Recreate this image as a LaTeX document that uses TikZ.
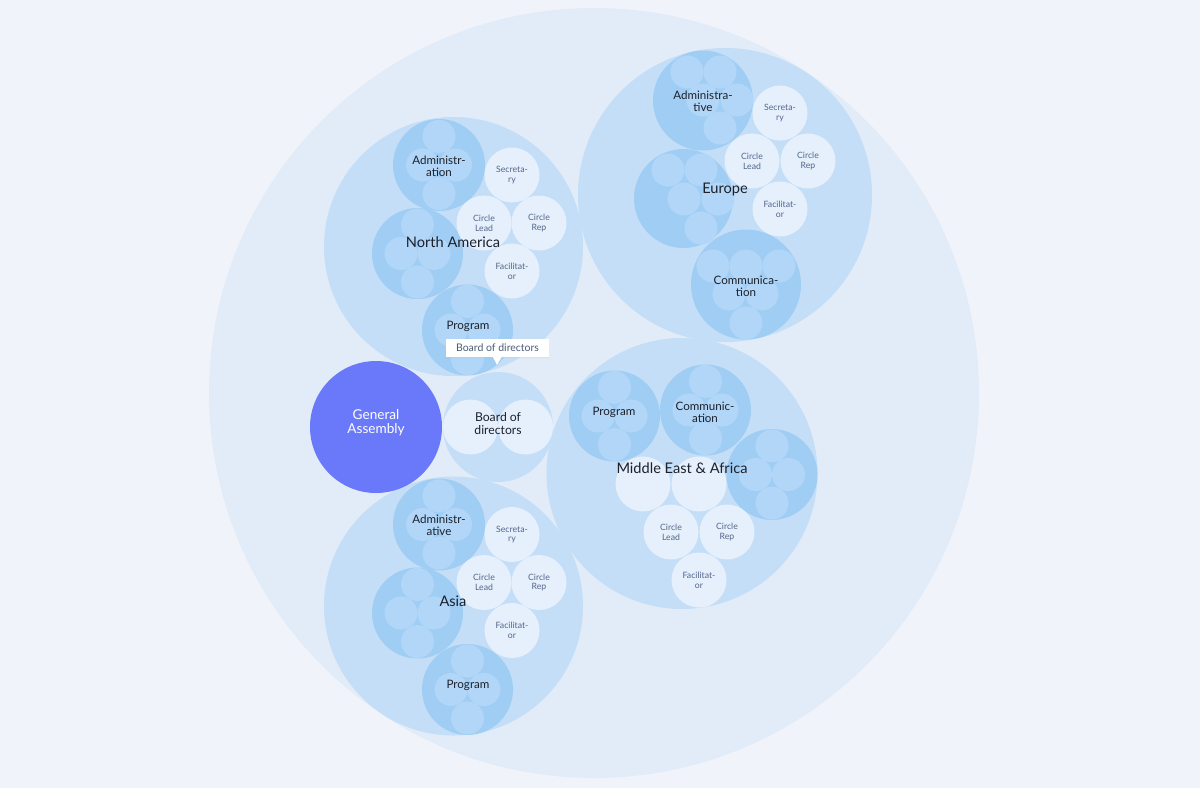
\documentclass[tikz,border=0pt]{standalone}
\usepackage{fontspec}
\setmainfont{Lato}
\usetikzlibrary{calc}
\usetikzlibrary{shapes.callouts}
\usetikzlibrary{shadows}
\definecolor{paper}{HTML}{F1F3FA}
\definecolor{outerblue}{HTML}{E1ECF8}
\definecolor{regionblue}{HTML}{C4DEF7}
\definecolor{teamblue}{HTML}{A0CDF4}
\definecolor{subblue}{HTML}{B1D6F7}
\definecolor{roleblue}{HTML}{E5F0FC}
\definecolor{assembly}{HTML}{6979F9}
\definecolor{ink}{HTML}{1C212C}
\definecolor{roleink}{HTML}{55658A}
\definecolor{tipink}{HTML}{4D5A78}

\begin{document}
\begin{tikzpicture}[x=1pt, y=-1pt,
  region/.style={circle, inner sep=0pt, fill=regionblue, minimum size=#1},
  team/.style={circle, inner sep=0pt, fill=teamblue, minimum size=#1},
  team/.default=91pt,
  sub/.style={circle, inner sep=0pt, fill=subblue, minimum size=33pt},
  role/.style={circle, inner sep=0pt, fill=roleblue, minimum size=55pt,
    text=roleink, align=center, font=\fontsize{8.7}{9.8}\selectfont},
  rlabel/.style={text=ink, font=\fontsize{14.6}{16}\selectfont},
  tlabel/.style={text=ink, align=center, font=\fontsize{11.6}{12.2}\selectfont}]

  \fill[paper] (0,0) rectangle (1200,788);
  \node[circle, inner sep=0pt, fill=outerblue, minimum size=770pt] (all) at (594,393) {};

  % regions
  \node[region=259pt] (na) at (453.5,246.5) {};
  \node[region=259pt] (as) at (453.5,606) {};
  \node[region=294pt] (eu) at (725,195) {};
  \node[region=271pt] (me) at (682,473.5) {};
  \node[region=110pt] (bod) at (498,427) {};

  % teams of North America and Asia
  \foreach \reg/\sy in {na/0, as/359.5} {
    \node[team=92pt] (\reg adm) at (439,165+\sy) {};
    \node[team] (\reg mid) at (417.5,253.5+\sy) {};
    \node[team] (\reg prog) at (467.5,330+\sy) {};
  }
  % teams of Middle East & Africa
  \node[team] (meprog) at (614.5,416) {};
  \node[team] (mecom) at (705.5,410) {};
  \node[team] (memid) at (772,474.5) {};
  \foreach \t in {naadm, namid, naprog, asadm, asmid, asprog, meprog, mecom, memid}
    \foreach \dx/\dy [count=\i] in {0/-28.6, -16.5/0, 16.5/0, 0/28.6}
      \node[sub] (\t-\i) at ($(\t)+(\dx,\dy)$) {};

  % teams of Europe
  \node[team=100pt] (euadm) at (703,100.5) {};
  \node[team=99pt] (eumid) at (683.5,198.5) {};
  \node[team=110pt] (eucom) at (746,284.5) {};
  \foreach \p [count=\i] in {(687,72), (720,72), (703,100), (737,100), (720,128)}
    \node[sub] (euadm-\i) at \p {};
  \foreach \p [count=\i] in {(668,170), (701,170), (684,199), (718,199), (701,228)}
    \node[sub] (eumid-\i) at \p {};
  \foreach \p [count=\i] in {(713,266), (746,266), (779,266), (729,294), (762,294), (746,323)}
    \node[sub] (eucom-\i) at \p {};

  % roles
  \foreach \reg/\sy in {na/0, as/359.5} {
    \node[role] (\reg sec) at (512,175+\sy) {Secreta-\\ry};
    \node[role] (\reg lead) at (484,223+\sy) {Circle\\Lead};
    \node[role] (\reg rep) at (539,223+\sy) {Circle\\Rep};
    \node[role] (\reg fac) at (512,271+\sy) {Facilitat-\\or};
  }
  \node[role] (eusec) at (780,113) {Secreta-\\ry};
  \node[role] (eulead) at (752,161) {Circle\\Lead};
  \node[role] (eurep) at (808,161) {Circle\\Rep};
  \node[role] (eufac) at (780,209) {Facilitat-\\or};
  \node[role] (mea) at (643,484) {};
  \node[role] (meb) at (699,484) {};
  \node[role] (melead) at (671,532) {Circle\\Lead};
  \node[role] (merep) at (727,532) {Circle\\Rep};
  \node[role] (mefac) at (699,580) {Facilitat-\\or};
  \node[role] (bod-1) at (470.5,427) {};
  \node[role] (bod-2) at (525.5,427) {};

  % team labels
  \node[tlabel] (naadm-l) at (439,166) {Administr-\\ation};
  \node[tlabel] (naprog-l) at (468,326) {Program};
  \node[tlabel] (asadm-l) at (439,525) {Administr-\\ative};
  \node[tlabel] (asprog-l) at (468,685) {Program};
  \node[tlabel] (euadm-l) at (703,101) {Administra-\\tive};
  \node[tlabel] (eucom-l) at (746,286) {Communica-\\tion};
  \node[tlabel] (meprog-l) at (614,412) {Program};
  \node[tlabel] (mecom-l) at (705,412) {Communic-\\ation};
  \node[text=ink, align=center, font=\fontsize{12.2}{13}\selectfont] (bod-l) at (498,423.5) {Board of\\directors};

  % region labels
  \node[rlabel] (na-l) at (453,242) {North America};
  \node[rlabel] (as-l) at (453,601) {Asia};
  \node[rlabel] (eu-l) at (725,190) {Europe};
  \node[rlabel] (me-l) at (682,468) {Middle East \& Africa};

  \node[circle, inner sep=0pt, fill=assembly, minimum size=132pt, text=white, align=center,
    font=\fontsize{13.6}{14}\selectfont] (ga) at (376,427) {};
  \node[text=white, align=center, font=\fontsize{13.6}{14}\selectfont] (ga-l) at (376,422.5) {General\\Assembly};

  \coordinate (tip) at (497,365);
  \node[rectangle callout, callout absolute pointer=(tip), callout pointer width=9pt,
    fill=white, minimum width=103pt, minimum height=18pt, inner sep=0pt, text=tipink,
    font=\fontsize{10.5}{12}\selectfont,
    drop shadow={opacity=.12, shadow xshift=0pt, shadow yshift=-1pt}] (tooltip) at (497.5,348) {Board of directors};
\end{tikzpicture}
\end{document}
